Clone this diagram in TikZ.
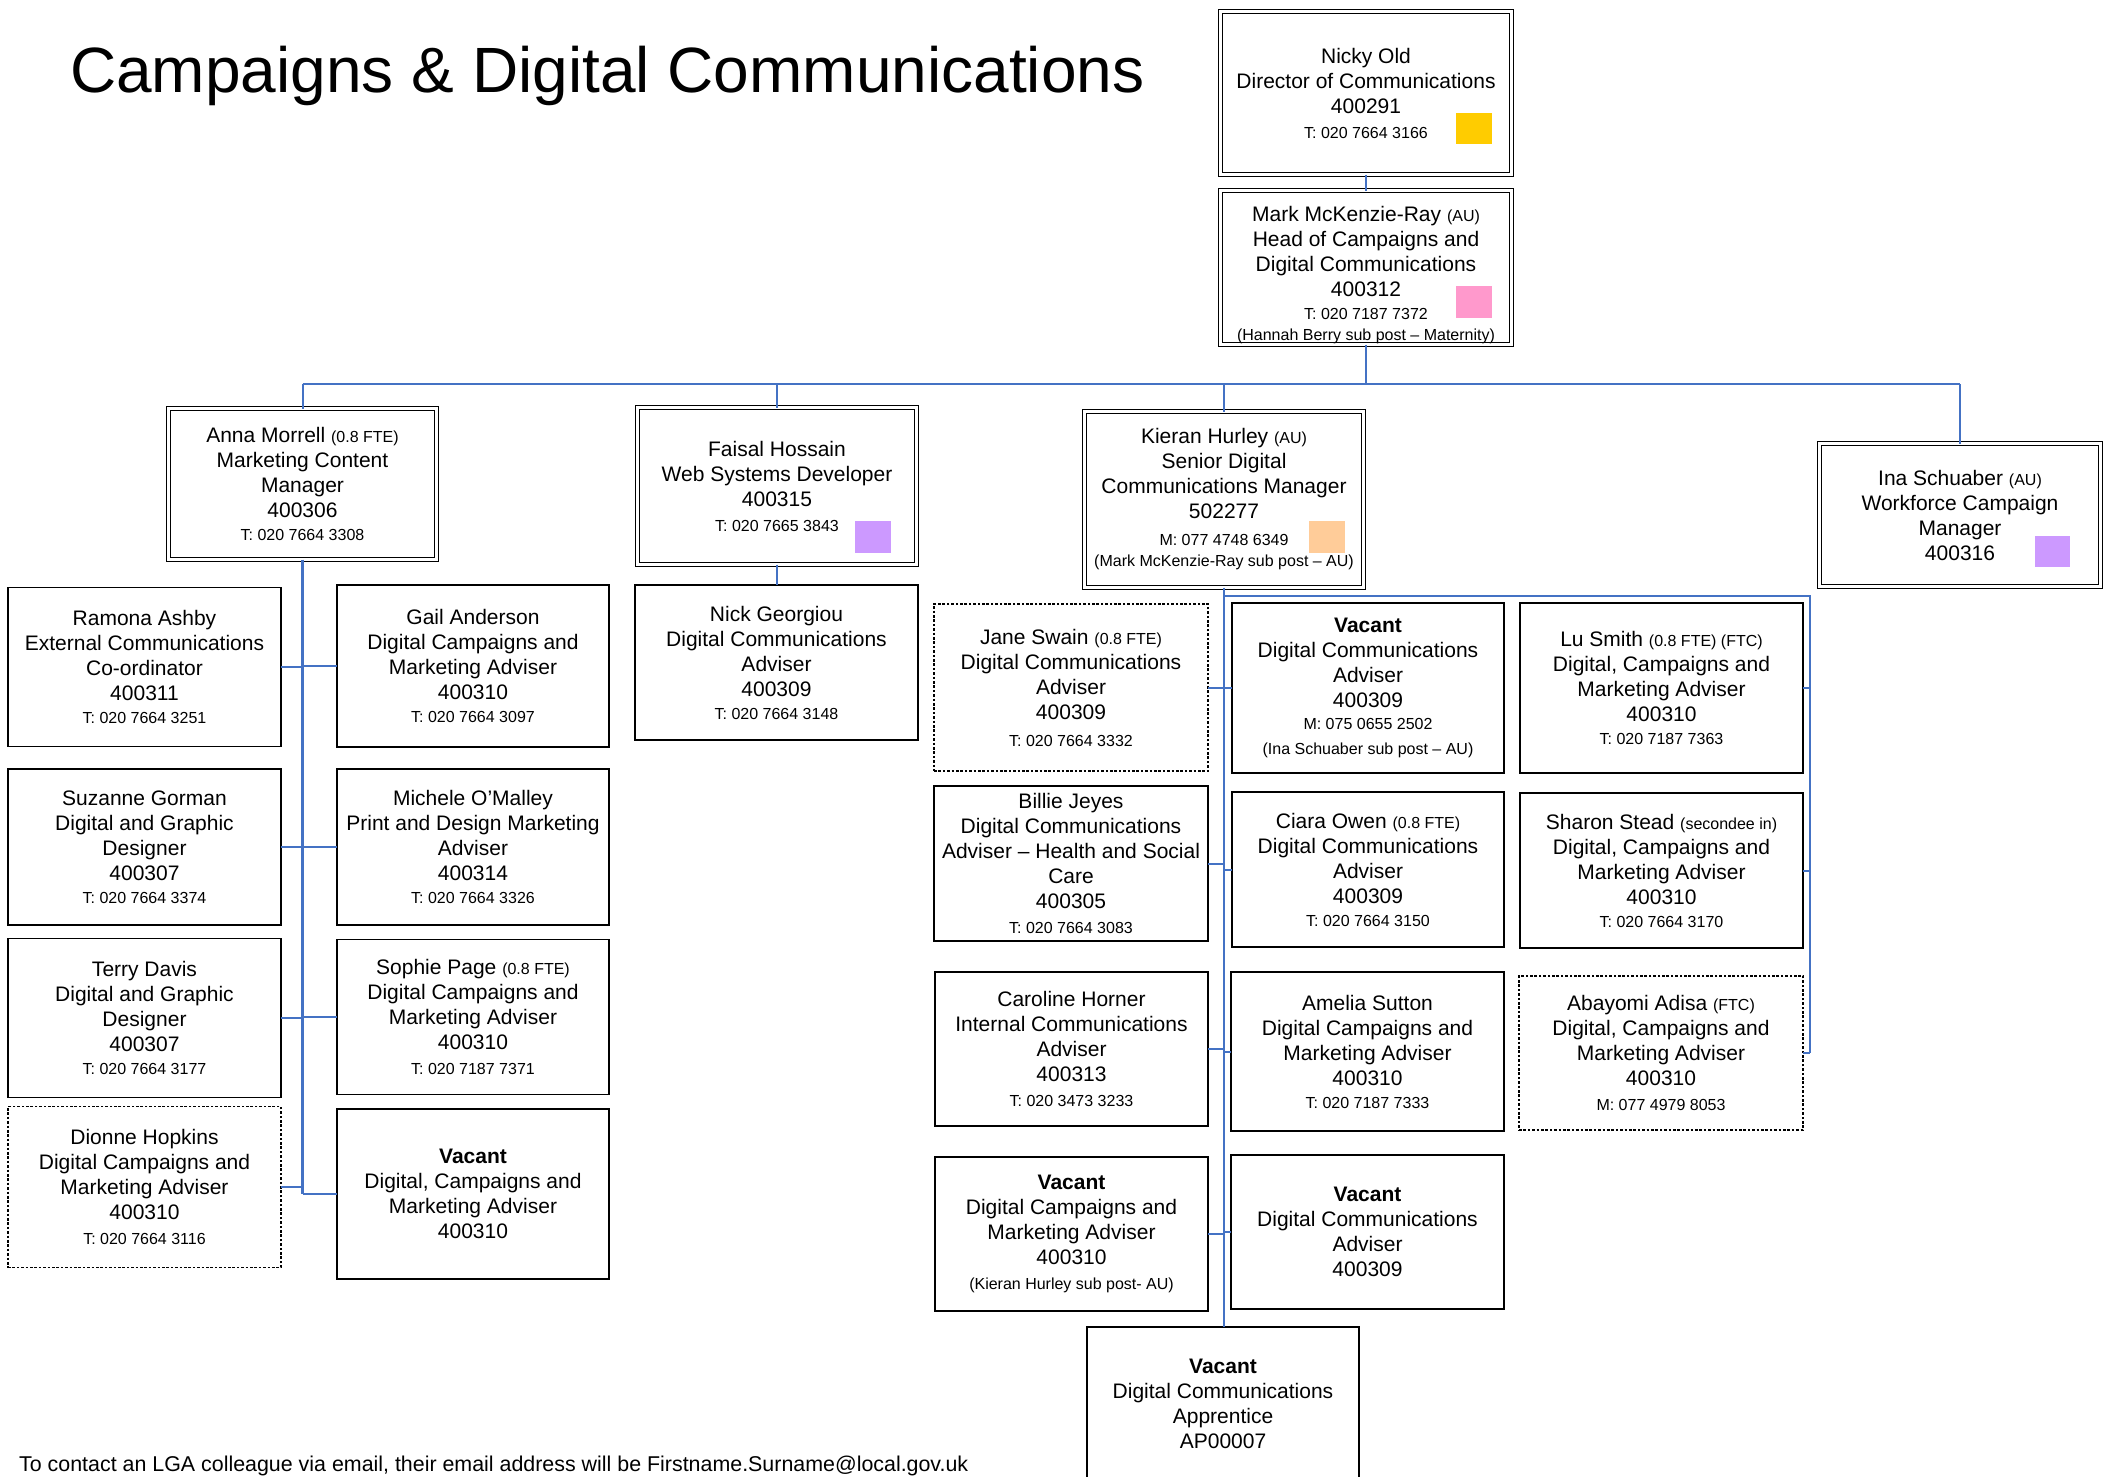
\documentclass[tikz,border=0pt]{standalone}
\usepackage{fontspec}
\setmainfont{Liberation Sans}
\usepackage{xcolor}
\definecolor{linkBlue}{HTML}{4472C4}
\definecolor{keyYellow}{HTML}{FFCC00}
\definecolor{keyPink}{HTML}{FF99CC}
\definecolor{keyLilac}{HTML}{CC99FF}
\definecolor{keyPeach}{HTML}{FFCC99}
\usepackage{tikz}
\usetikzlibrary{calc}
\newcommand{\postfont}{\fontsize{21}{25}\selectfont}
\newcommand{\smtxt}[1]{{\fontsize{16}{25}\selectfont #1}}

\begin{document}
\begin{tikzpicture}[x=1pt, y=-1pt,
  post/.style={draw, line width=1.4pt, inner sep=1pt, outer sep=0pt, align=center, font=\postfont},
  headpost/.style={post, line width=1.3pt, double, double distance=2.4pt},
  temppost/.style={post, line width=1.2pt, dash pattern=on 2.6pt off 1.8pt},
  link/.style={linkBlue, line width=2pt},
  keybox/.style={inner sep=0pt, outer sep=0pt, minimum width=36, minimum height=32}]
\useasboundingbox (0,0) rectangle (2114,1477);
\fill[white] (0,0) rectangle (2114,1477);
\clip (0,0) rectangle (2114,1477);

% Title and footnote
\node[anchor=base west, inner sep=0pt, font=\fontsize{64}{76}\selectfont] (title) at (70,93) {Campaigns \& Digital Communications};
\node[anchor=base west, inner sep=0pt, font=\fontsize{21.4}{25}\selectfont] (footnote) at (19,1471) {To contact an LGA colleague via email, their email address will be Firstname.Surname@local.gov.uk};

% Directors
\node[headpost, minimum width=291, minimum height=163] (nicky) at (1366,93) {Nicky Old\\Director of Communications\\400291\\\smtxt{T: 020 7664 3166}};
\node[headpost, minimum width=291, minimum height=154] (mark) at (1366,267.5) {\rule{0pt}{29.5pt}Mark McKenzie-Ray \smtxt{(AU)}\\Head of Campaigns and\\Digital Communications\\400312\\[-2pt]\smtxt{T: 020 7187 7372}\\[-4pt]\smtxt{(Hannah Berry sub post -- Maternity)}};

% Managers
\node[headpost, minimum width=268, minimum height=151] (anna) at (302.5,484) {Anna Morrell \smtxt{(0.8 FTE)}\\Marketing Content\\Manager\\400306\\[-2pt]\smtxt{T: 020 7664 3308}};
\node[headpost, minimum width=279, minimum height=157] (faisal) at (777,486) {Faisal Hossain\\Web Systems Developer\\400315\\\smtxt{T: 020 7665 3843}};
\node[headpost, minimum width=279, minimum height=176] (kieran) at (1224,499.5) {Kieran Hurley \smtxt{(AU)}\\Senior Digital\\Communications Manager\\502277\\[2pt]\smtxt{M: 077 4748 6349}\\[-4pt]\smtxt{(Mark McKenzie-Ray sub post -- AU)}};
\node[headpost, minimum width=281, minimum height=143] (ina) at (1960,515) {Ina Schuaber \smtxt{(AU)}\\Workforce Campaign\\Manager\\400316};

% Colour keys
\node[keybox, fill=keyYellow, minimum height=31] (nickyKey) at (1474,128.5) {};
\node[keybox, fill=keyPink] (markKey) at (1474,302) {};
\node[keybox, fill=keyLilac] (faisalKey) at (873,537) {};
\node[keybox, fill=keyPeach] (kieranKey) at (1327,537) {};
\node[keybox, fill=keyLilac, minimum width=35, minimum height=31] (inaKey) at (2052.5,551.5) {};

% Anna Morrell's team
\node[post, minimum width=273, minimum height=159] (ramona) at (144.5,667) {Ramona Ashby\\External Communications\\Co-ordinator\\400311\\[-2pt]\smtxt{T: 020 7664 3251}};
\node[post, minimum width=272, minimum height=162] (gail) at (473,666) {Gail Anderson\\Digital Campaigns and\\Marketing Adviser\\400310\\[-2pt]\smtxt{T: 020 7664 3097}};
\node[post, minimum width=273, minimum height=156] (suzanne) at (144.5,847) {Suzanne Gorman\\Digital and Graphic\\Designer\\400307\\[-2pt]\smtxt{T: 020 7664 3374}};
\node[post, minimum width=272, minimum height=156] (michele) at (473,847) {Michele O’Malley\\Print and Design Marketing\\Adviser\\400314\\[-2pt]\smtxt{T: 020 7664 3326}};
\node[post, minimum width=273, minimum height=159] (terry) at (144.5,1018) {Terry Davis\\Digital and Graphic\\Designer\\400307\\[-2pt]\smtxt{T: 020 7664 3177}};
\node[post, minimum width=272, minimum height=155] (sophie) at (473,1017) {Sophie Page \smtxt{(0.8 FTE)}\\Digital Campaigns and\\Marketing Adviser\\400310\\\smtxt{T: 020 7187 7371}};
\node[temppost, minimum width=273, minimum height=161] (dionne) at (144.5,1187) {Dionne Hopkins\\Digital Campaigns and\\Marketing Adviser\\400310\\\smtxt{T: 020 7664 3116}};
\node[post, minimum width=272, minimum height=170] (vacantL) at (473,1194) {\textbf{Vacant}\\Digital, Campaigns and\\Marketing Adviser\\400310};

% Faisal Hossain's team
\node[post, minimum width=283, minimum height=155] (nick) at (776.5,662.5) {Nick Georgiou\\Digital Communications\\Adviser\\400309\\[-2pt]\smtxt{T: 020 7664 3148}};

% Kieran Hurley's team
\node[temppost, minimum width=274, minimum height=167] (jane) at (1071,687.5) {Jane Swain \smtxt{(0.8 FTE)}\\Digital Communications\\Adviser\\400309\\[2pt]\smtxt{T: 020 7664 3332}};
\node[post, minimum width=272, minimum height=170] (vacantA) at (1368,688) {\textbf{Vacant}\\Digital Communications\\Adviser\\400309\\[-3pt]\smtxt{M: 075 0655 2502}\\\smtxt{(Ina Schuaber sub post -- AU)}};
\node[post, minimum width=283, minimum height=170] (lu) at (1661.5,688) {Lu Smith \smtxt{(0.8 FTE) (FTC)}\\Digital, Campaigns and\\Marketing Adviser\\400310\\[-2pt]\smtxt{T: 020 7187 7363}};
\node[post, minimum width=274, minimum height=155] (billie) at (1071,863.5) {Billie Jeyes\\Digital Communications\\Adviser -- Health and Social\\Care\\400305\\\smtxt{T: 020 7664 3083}};
\node[post, minimum width=272, minimum height=155] (ciara) at (1368,869.5) {Ciara Owen \smtxt{(0.8 FTE)}\\Digital Communications\\Adviser\\400309\\[-2pt]\smtxt{T: 020 7664 3150}};
\node[post, minimum width=283, minimum height=155] (sharon) at (1661.5,870.5) {Sharon Stead \smtxt{(secondee in)}\\Digital, Campaigns and\\Marketing Adviser\\400310\\[-2pt]\smtxt{T: 020 7664 3170}};
\node[post, minimum width=273, minimum height=154] (caroline) at (1071.5,1049) {Caroline Horner\\Internal Communications\\Adviser\\400313\\\smtxt{T: 020 3473 3233}};
\node[post, minimum width=273, minimum height=159] (amelia) at (1367.5,1051.5) {Amelia Sutton\\Digital Campaigns and\\Marketing Adviser\\400310\\[-2pt]\smtxt{T: 020 7187 7333}};
\node[temppost, minimum width=284, minimum height=154] (abayomi) at (1661,1053) {Abayomi Adisa \smtxt{(FTC)}\\Digital, Campaigns and\\Marketing Adviser\\400310\\\smtxt{M: 077 4979 8053}};
\node[post, minimum width=273, minimum height=154] (vacantB) at (1071.5,1234) {\textbf{Vacant}\\Digital Campaigns and\\Marketing Adviser\\400310\\\smtxt{(Kieran Hurley sub post- AU)}};
\node[post, minimum width=273, minimum height=154] (vacantC) at (1367.5,1232) {\textbf{Vacant}\\Digital Communications\\Adviser\\400309};
\node[post, minimum width=272, minimum height=154] (apprentice) at (1223,1404) {\textbf{Vacant}\\Digital Communications\\Apprentice\\AP00007};

% Reporting lines
\coordinate (busY) at (0,384);
\draw[link] (nicky.south) -- (mark.north);
\draw[link] (mark.south) -- (mark.south |- busY);
\draw[link] (anna.north |- busY) -- (ina.north |- busY);
\foreach \n in {anna,faisal,kieran,ina}
  \draw[link] (\n.north) -- (\n.north |- busY);

\draw[link, line width=2.4pt] (anna.south) -- (anna.south |- vacantL.west);
\foreach \n in {ramona,suzanne,terry,dionne}
  \draw[link] (\n.east) -- (\n.east -| anna.south);
\foreach \n in {gail,michele,sophie,vacantL}
  \draw[link] (\n.west) -- (\n.west -| anna.south);

\draw[link] (faisal.south) -- (faisal.south |- nick.north);

\coordinate (railTop) at (1810,596);
\draw[link, line width=2.6pt] (kieran.south) -- (kieran.south |- apprentice.north);
\draw[link] (kieran.south |- railTop) -- (railTop) -- (railTop |- abayomi.east);
\foreach \n in {jane,billie,caroline,vacantB}
  \draw[link] (\n.east) -- (\n.east -| kieran.south);
\foreach \n in {vacantA,ciara,amelia,vacantC}
  \draw[link] (\n.west) -- (\n.west -| kieran.south);
\foreach \n in {lu,sharon,abayomi}
  \draw[link] (\n.east) -- (\n.east -| railTop);
\end{tikzpicture}
\end{document}
